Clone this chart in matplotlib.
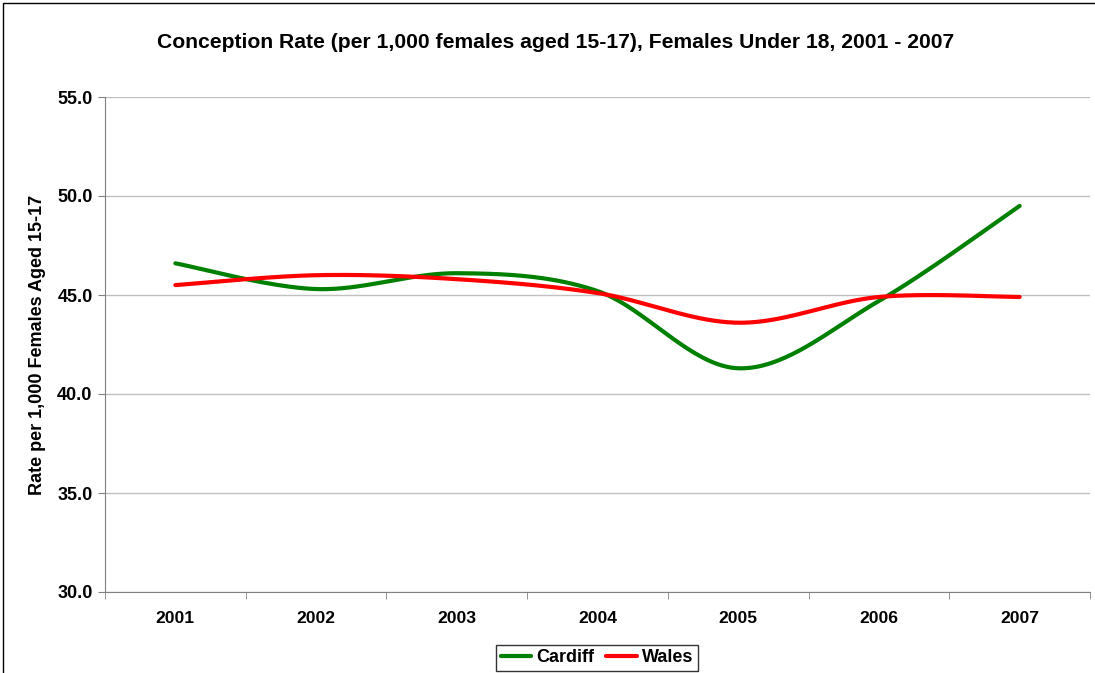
import matplotlib
matplotlib.use("Agg")
import matplotlib.pyplot as plt
import numpy as np
from matplotlib.patches import Rectangle

plt.rcParams['font.family'] = ['Liberation Sans', 'DejaVu Sans']

# Data
years = ['2001', '2002', '2003', '2004', '2005', '2006', '2007']
cardiff = [46.6, 45.3, 46.1, 45.2, 41.3, 44.7, 49.5]
wales = [45.5, 46.0, 45.8, 45.1, 43.6, 44.9, 44.9]


def smooth(y, n=40):
    # Excel-style smoothed line: Bezier segments with Catmull-Rom control points
    x = np.arange(len(y), dtype=float)
    y = np.asarray(y, dtype=float)
    pts = np.column_stack([x, y])
    ext = np.vstack([pts[0], pts, pts[-1]])
    out = []
    t = np.linspace(0, 1, n)[:, None]
    for i in range(len(pts) - 1):
        p0, p1, p2, p3 = ext[i], ext[i + 1], ext[i + 2], ext[i + 3]
        c1 = p1 + (p2 - p0) / 6
        c2 = p2 - (p3 - p1) / 6
        seg = ((1 - t) ** 3) * p1 + 3 * ((1 - t) ** 2) * t * c1 \
            + 3 * (1 - t) * t ** 2 * c2 + t ** 3 * p2
        out.append(seg)
    out = np.vstack(out)
    return out[:, 0], out[:, 1]


fig = plt.figure(figsize=(10.95, 6.73), dpi=100)
ax = fig.add_axes([105 / 1095, 1 - 592 / 673, (1090 - 105) / 1095, (592 - 97) / 673])

# border around the chart area
fig.patches.append(Rectangle((3 / 1095, -0.01), 1.2, 1 - 3 / 673 + 0.01, transform=fig.transFigure,
                             fill=False, edgecolor='black', linewidth=1))

xc, yc = smooth(cardiff)
xw, yw = smooth(wales)
ax.plot(xc, yc, color='#008000', linewidth=3, label='Cardiff', solid_capstyle='round')
ax.plot(xw, yw, color='#FF0000', linewidth=3, label='Wales', solid_capstyle='round')

ax.set_xlim(-0.5, len(years) - 0.5)
ax.set_ylim(30, 55)
ax.set_yticks(np.arange(30, 55.1, 5))
ax.set_yticklabels(['%.1f' % v for v in np.arange(30, 55.1, 5)], fontsize=13, fontweight='bold')
ax.set_xticks(np.arange(len(years)))
ax.set_xticklabels(years, fontsize=12.6, fontweight='bold')
ax.set_xticks(np.arange(-0.5, len(years), 1), minor=True)
ax.tick_params(axis='x', which='major', length=0, pad=14)
ax.tick_params(axis='x', which='minor', length=5, color='#808080')
ax.tick_params(axis='y', length=5, color='#808080', pad=4)

ax.grid(axis='y', color='#C0C0C0', linewidth=1)
ax.set_axisbelow(True)
for s in ['top', 'right']:
    ax.spines[s].set_visible(False)
for s in ['left', 'bottom']:
    ax.spines[s].set_color('#808080')

ax.set_ylabel('Rate per 1,000 Females Aged 15-17', fontsize=13, fontweight='bold')
ax.yaxis.set_label_coords(-59 / 985, 0.5)
fig.text(556 / 1095, 1 - 42 / 673, 'Conception Rate (per 1,000 females aged 15-17), Females Under 18, 2001 - 2007',
         ha='center', va='center', fontsize=15.2, fontweight='bold')

leg = ax.legend(loc='center', bbox_to_anchor=(597 / 1095, 1 - 658 / 673), bbox_transform=fig.transFigure,
                ncol=2, frameon=True, fancybox=False, edgecolor='black',
                prop={'weight': 'bold', 'size': 13}, handlelength=1.7, handletextpad=0.28,
                columnspacing=0.65, borderpad=0.25, borderaxespad=0)
leg.get_frame().set_linewidth(1)

fig.savefig('out.png', dpi=100)
